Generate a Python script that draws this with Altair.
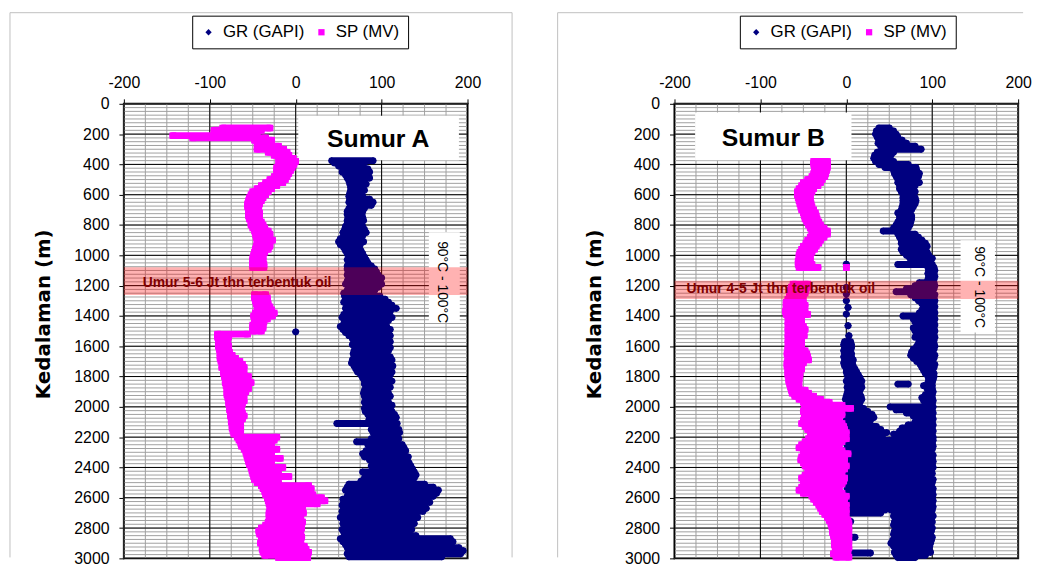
import altair as alt
import pandas as pd

# ---------------- axis ticks / grid ----------------
x_ticks = [-200, -100, 0, 100, 200]
y_ticks = list(range(0, 3001, 200))
x_minor = list(range(-200, 201, 25))
y_minor = list(range(0, 3001, 25))

series_names = ["GR (GAPI)", "SP (MV)"]
series_colors = ["#000080", "#FF00FF"]
series_shapes = ["diamond", "square"]

# ---------------- Sumur A : (depth, low value, high value) ----------------
sp_a = [(160,-85,-30),(175,-95,-40),(190,-95,-45),(210,-143,-45),(225,-120,-35),(240,-48,-28),(260,-45,-28),(280,-44,-20),(300,-45,-14),(320,-32,-10),(340,-25,-8),(360,-20,-3),(380,-16,0),(400,-20,-2),(420,-22,-4),(440,-22,-6),(460,-22,-8),(480,-25,-10),(500,-30,-12),(520,-35,-15),(540,-40,-22),(560,-45,-28),(580,-50,-32),(600,-52,-35),(620,-54,-38),(640,-55,-40),(660,-56,-42),(680,-56,-43),(700,-55,-44),(720,-55,-42),(740,-55,-43),(760,-54,-42),(780,-52,-40),(800,-52,-38),(820,-50,-36),(840,-48,-32),(860,-47,-30),(880,-46,-30),(900,-45,-27),(920,-45,-30),(940,-46,-30),(960,-47,-32),(980,-48,-36),(1000,-49,-38),(1020,-50,-38),(1040,-50,-38),(1060,-50,-37),(1080,-50,-37),(1260,-48,-35),(1280,-48,-33),(1300,-47,-33),(1320,-46,-32),(1340,-45,-30),(1360,-44,-28),(1380,-47,-25),(1400,-49,-27),(1420,-48,-33),(1440,-48,-37),(1460,-50,-38),(1480,-50,-38),(1500,-50,-40),(1520,-91,-56),(1540,-91,-78),(1560,-90,-80),(1580,-90,-79),(1600,-90,-78),(1620,-89,-78),(1640,-88,-77),(1660,-88,-74),(1680,-88,-70),(1700,-87,-65),(1720,-85,-62),(1740,-86,-60),(1760,-84,-62),(1780,-84,-60),(1800,-83,-55),(1820,-82,-58),(1840,-82,-52),(1860,-81,-55),(1880,-80,-55),(1900,-80,-58),(1920,-80,-60),(1940,-79,-62),(1960,-78,-60),(1980,-78,-62),(2000,-77,-63),(2020,-77,-65),(2040,-76,-62),(2060,-76,-60),(2080,-75,-62),(2100,-75,-64),(2120,-74,-64),(2140,-74,-64),(2160,-73,-64),(2180,-72,-64),(2200,-68,-22),(2220,-66,-25),(2240,-64,-28),(2260,-63,-30),(2280,-60,-22),(2300,-58,-28),(2320,-57,-30),(2340,-56,-18),(2360,-55,-30),(2380,-54,-28),(2400,-52,-15),(2420,-51,-25),(2440,-50,-20),(2460,-49,-8),(2480,-48,-25),(2500,-45,-20),(2520,-40,15),(2540,-38,18),(2560,-36,5),(2580,-35,20),(2600,-33,30),(2620,-32,34),(2640,-31,25),(2660,-30,8),(2680,-30,5),(2700,-31,9),(2720,-31,4),(2740,-30,6),(2760,-32,8),(2780,-35,5),(2800,-40,7),(2820,-43,3),(2840,-42,6),(2860,-40,7),(2880,-40,4),(2900,-41,6),(2920,-38,10),(2940,-39,12),(2960,-38,15),(2980,-36,12),(2995,-20,14)]

gr_a = [(375,42,90),(390,45,80),(410,50,78),(430,55,84),(450,54,86),(470,58,84),(490,60,86),(510,62,80),(530,63,82),(550,64,78),(570,64,80),(590,63,76),(610,62,78),(630,63,86),(650,62,90),(670,64,88),(690,62,80),(710,60,78),(730,60,77),(750,61,78),(770,60,79),(790,60,76),(810,58,78),(830,57,80),(850,55,82),(870,56,78),(890,52,76),(910,50,79),(930,52,75),(950,56,74),(970,58,76),(990,60,78),(1010,62,80),(1030,60,82),(1050,62,84),(1070,60,88),(1090,60,92),(1110,61,94),(1130,60,96),(1150,62,100),(1170,60,98),(1190,58,100),(1210,62,96),(1230,60,92),(1250,56,90),(1270,57,98),(1290,58,104),(1310,56,108),(1330,60,112),(1350,58,117),(1370,60,110),(1390,56,106),(1410,54,112),(1430,57,108),(1450,56,102),(1470,52,106),(1490,55,110),(1510,58,108),(1530,62,110),(1550,66,108),(1570,68,110),(1590,66,106),(1610,70,110),(1630,68,108),(1650,67,105),(1670,68,110),(1690,66,112),(1710,65,108),(1730,68,113),(1750,70,110),(1770,72,112),(1790,76,110),(1810,78,108),(1830,80,112),(1850,80,108),(1870,82,110),(1890,80,106),(1910,79,108),(1930,80,110),(1950,82,106),(1970,80,108),(1990,82,112),(2010,80,110),(2030,81,112),(2050,84,115),(2070,86,117),(2090,85,114),(2110,48,118),(2130,90,116),(2150,88,120),(2170,90,121),(2190,92,118),(2210,88,120),(2230,71,117),(2250,84,124),(2270,86,126),(2290,82,128),(2310,78,126),(2330,80,131),(2350,86,130),(2370,90,132),(2390,88,134),(2410,92,136),(2430,78,138),(2450,85,140),(2470,80,138),(2490,76,136),(2510,62,150),(2530,60,160),(2550,58,166),(2570,62,164),(2590,60,160),(2610,55,130),(2630,56,156),(2650,54,150),(2670,56,152),(2690,54,148),(2710,55,140),(2730,52,142),(2750,56,130),(2770,55,138),(2790,58,125),(2810,54,135),(2830,56,130),(2850,57,140),(2870,52,180),(2890,55,183),(2910,58,175),(2930,60,190),(2950,62,195),(2970,60,192),(2990,62,170),(1505,0,0)]

# ---------------- Sumur B ----------------
sp_b = [(380,-38,-22),(400,-38,-22),(420,-37,-22),(440,-37,-23),(460,-38,-24),(480,-40,-25),(500,-45,-28),(520,-50,-30),(540,-52,-33),(560,-55,-38),(580,-57,-40),(600,-57,-42),(620,-56,-42),(640,-55,-42),(660,-54,-41),(680,-53,-40),(700,-52,-38),(720,-50,-36),(740,-49,-35),(760,-48,-34),(780,-46,-32),(800,-44,-30),(820,-42,-26),(840,-40,-22),(860,-40,-22),(880,-42,-26),(900,-45,-30),(920,-47,-32),(940,-50,-35),(960,-52,-37),(980,-54,-40),(1000,-55,-42),(1020,-55,-42),(1040,-56,-42),(1060,-56,-40),(1080,-55,-33),(1080,0,0),(1190,-62,-45),(1210,-64,-45),(1230,-65,-47),(1250,-66,-48),(1270,-66,-50),(1290,-68,-52),(1310,-70,-50),(1330,-70,-48),(1350,-70,-50),(1370,-71,-48),(1390,-70,-45),(1410,-68,-52),(1430,-67,-53),(1450,-68,-52),(1470,-67,-50),(1490,-68,-48),(1510,-67,-50),(1530,-68,-49),(1550,-67,-52),(1570,-68,-53),(1590,-67,-52),(1610,-68,-55),(1630,-68,-48),(1650,-69,-46),(1670,-68,-45),(1690,-68,-44),(1710,-69,-50),(1730,-69,-52),(1750,-68,-52),(1770,-68,-54),(1790,-68,-54),(1810,-67,-55),(1830,-67,-55),(1850,-66,-56),(1870,-65,-55),(1890,-64,-48),(1910,-63,-44),(1930,-60,-38),(1950,-55,-30),(1970,-50,-20),(1990,-48,-5),(2010,-49,5),(2030,-50,-10),(2050,-48,-5),(2070,-49,-12),(2090,-50,-8),(2110,-52,-5),(2130,-48,-3),(2150,-45,-2),(2170,-42,0),(2190,-40,-2),(2210,-44,0),(2230,-48,-5),(2250,-52,-8),(2270,-55,-10),(2290,-50,-5),(2310,-48,2),(2330,-52,-4),(2350,-53,-2),(2370,-50,-5),(2390,-48,0),(2410,-45,-2),(2430,-42,-5),(2450,-48,-8),(2470,-52,-2),(2490,-50,-3),(2510,-48,-5),(2530,-52,-10),(2550,-55,-8),(2570,-50,-5),(2590,-40,0),(2610,-38,-2),(2630,-35,-5),(2650,-32,0),(2670,-30,-2),(2690,-28,0),(2710,-25,-3),(2730,-22,0),(2750,-20,2),(2770,-18,3),(2790,-17,2),(2810,-16,3),(2830,-16,2),(2850,-15,3),(2870,-14,2),(2890,-14,3),(2910,-14,2),(2930,-13,3),(2950,-12,2),(2970,-15,0),(2992,-12,3)]

gr_b = [(160,38,50),(180,35,55),(200,34,58),(220,36,60),(240,38,65),(260,37,70),(280,40,80),(300,42,87),(320,36,55),(340,33,52),(360,32,50),(380,34,55),(400,38,72),(420,45,81),(440,55,82),(460,56,85),(480,58,84),(500,60,82),(520,60,85),(540,62,80),(560,62,78),(580,64,80),(600,66,78),(620,66,80),(640,66,81),(660,66,80),(680,65,78),(700,64,76),(720,60,74),(740,62,76),(760,62,76),(780,60,75),(800,58,74),(820,55,72),(840,43,62),(860,60,80),(880,62,84),(900,64,88),(920,64,92),(940,66,94),(960,64,92),(980,66,94),(1000,70,96),(1020,74,100),(1040,76,98),(1060,60,100),(1080,95,102),(1100,96,103),(1120,95,102),(1140,96,103),(1160,95,102),(1180,85,102),(1200,80,103),(1220,70,102),(1240,58,100),(1260,75,103),(1280,80,102),(1300,84,103),(1320,88,102),(1340,90,103),(1360,88,102),(1380,85,103),(1400,66,102),(1420,78,103),(1440,80,102),(1460,82,103),(1480,78,102),(1500,80,103),(1520,82,102),(1540,80,103),(1560,85,102),(1580,84,102),(1600,82,103),(1620,78,102),(1640,76,100),(1660,75,103),(1680,78,102),(1700,82,100),(1720,86,103),(1740,88,102),(1760,90,100),(1780,92,102),(1800,95,102),(1820,96,101),(1840,95,100),(1850,60,72),(1860,90,100),(1880,94,100),(1900,96,101),(1920,92,100),(1940,88,100),(1960,90,101),(1980,92,100),(2000,51,101),(2020,58,100),(2040,70,101),(2060,78,100),(2080,85,101),(2100,80,100),(2120,72,101),(2140,65,100),(2160,62,101),(2180,55,100),(2200,58,101),(2220,45,101),
        (1058,0,0),(1212,0,0),(1256,0,0),(1300,0,0),(1344,2,2),(1388,0,0),(1465,2,2),(1531,3,3),(1570,-2,5),(1590,-3,6),(1610,-2,6),(1630,-3,5),(1650,-2,6),(1670,-3,6),(1690,-2,8),(1710,-3,7),(1730,-2,8),(1750,0,10),(1770,0,12),(1790,1,14),(1810,2,16),(1830,0,18),(1850,2,17),(1870,1,18),(1890,2,16),(1910,1,15),(1930,0,17),(1950,-1,18),(1970,0,16),(1990,2,15),(2010,0,20),(2030,-2,25),(2050,0,30),(2070,2,32),(2090,0,28),(2110,-1,25),(2130,2,35),(2150,0,40),(2170,3,47),(2190,2,42),(2210,5,40),(2230,3,45),
        (2240,0,100),(2260,2,101),(2280,0,100),(2300,1,98),(2320,0,101),(2340,2,100),(2360,0,101),(2380,-2,100),(2400,0,101),(2420,2,99),(2440,0,100),(2460,3,98),(2480,0,101),(2500,2,100),(2520,3,99),(2540,1,101),(2560,3,100),(2580,2,101),(2600,4,100),(2620,3,101),(2640,2,50),(2640,55,100),(2660,3,48),(2660,56,101),(2680,2,45),(2680,52,100),(2700,4,40),(2700,56,99),
        (2720,55,101),(2740,58,99),(2760,56,100),(2780,55,98),(2800,58,100),(2820,56,99),(2840,55,98),(2860,58,100),(2880,54,99),(2900,52,98),(2920,55,97),(2940,58,96),(2960,56,98),(2980,58,92),(2995,60,80),
        (2756,5,5),(2861,3,10),(2965,1,28)]

# ---------------- annotations ----------------
ann_a = dict(title="Sumur A", title_v=96, title_d=232, box=(3, 190, 78, 372),
             band=(1078, 1262), band_text="Umur 5-6 Jt thn terbentuk oil", band_v=-178, band_d=1180,
             temp_box=(155, 191, 848, 1434), temp_v=170, temp_d=1177, legend_x=69, frame_right=True)
ann_b = dict(title="Sumur B", title_v=-85, title_d=228, box=(-176, 6, 57, 373),
             band=(1168, 1289), band_text="Umur 4-5 Jt thn terbentuk oil", band_v=-186, band_d=1222,
             temp_box=(133, 173, 900, 1510), temp_v=154, temp_d=1210, legend_x=66, frame_right=False)
temp_label = "90°C - 100°C"

W, H = 347, 459
xscale = alt.Scale(domain=[-200, 200], nice=False, zero=False)
yscale = alt.Scale(domain=[0, 3000], reverse=True, nice=False, zero=False)
xaxis = alt.Axis(orient="top", values=x_ticks, grid=False, domain=False, ticks=True, tickSize=5,
                 tickColor="black", labelFontSize=16, labelFont="Liberation Sans", labelColor="black",
                 labelPadding=8, title=None, labelFlush=False, labelExpr="'' + datum.value")
yaxis = alt.Axis(values=y_ticks, grid=False, domain=False, ticks=True, tickSize=5, tickColor="black",
                 labelFontSize=16, labelFont="Liberation Sans", labelColor="black", labelPadding=10,
                 labelFlush=False, labelOverlap=False, labelExpr="'' + datum.value",
                 title="Kedalaman (m)", titleFont="DejaVu Sans", titleFontSize=20, titleFontWeight="bold",
                 titleColor="black", titleX=-71, titleY=212, titleAngle=270, titleBaseline="bottom",
                 titleAlign="center")


def X(f):
    return alt.X(f, type="quantitative", scale=xscale, axis=xaxis)


def Y(f):
    return alt.Y(f, type="quantitative", scale=yscale, axis=yaxis)


def panel(gr, sp, ann):
    gr_df = pd.DataFrame(gr, columns=["depth", "lo", "hi"])
    gr_df["series"] = series_names[0]
    sp_df = pd.DataFrame(sp, columns=["depth", "lo", "hi"])
    sp_df["series"] = series_names[1]

    leg = alt.Legend(orient="none", legendX=ann["legend_x"], legendY=-89, direction="horizontal",
                     title=None, strokeColor="black", fillColor="white", padding=8,
                     labelFontSize=17, labelFont="Liberation Sans", labelColor="black",
                     symbolSize=40, columnPadding=8, labelOffset=6, symbolStrokeWidth=0)
    cscale = alt.Scale(domain=series_names, range=series_colors)
    sscale = alt.Scale(domain=series_names, range=series_shapes)

    minor_v = alt.Chart(pd.DataFrame({"gx": x_minor})).mark_rule(color="#A0A0A0", strokeWidth=1).encode(x=X("gx"))
    minor_h = alt.Chart(pd.DataFrame({"gy": y_minor})).mark_rule(color="#A0A0A0", strokeWidth=1).encode(y=Y("gy"))
    major_v = alt.Chart(pd.DataFrame({"gx": x_ticks})).mark_rule(color="black", strokeWidth=1).encode(x=X("gx"))
    major_h = alt.Chart(pd.DataFrame({"gy": y_ticks})).mark_rule(color="black", strokeWidth=1).encode(y=Y("gy"))

    b = ann["box"]
    t = ann["temp_box"]
    boxes = alt.Chart(pd.DataFrame({"v1": [b[0], t[0]], "v2": [b[1], t[1]], "d1": [b[2], t[2]], "d2": [b[3], t[3]]})
                      ).mark_rect(color="white").encode(x=X("v1"), x2="v2", y=Y("d1"), y2="d2")

    def rules(df, color):
        return alt.Chart(df).mark_rule(color=color, strokeWidth=7, strokeCap="round").encode(
            x=X("lo"), x2="hi", y=Y("depth"))

    def pts(df, size):
        return alt.Chart(df).transform_fold(["lo", "hi"], as_=["end", "value"]).mark_point(
            filled=True, size=size, opacity=1, strokeWidth=0).encode(
            x=X("value"), y=Y("depth"),
            color=alt.Color("series:N", scale=cscale, legend=leg),
            shape=alt.Shape("series:N", scale=sscale, legend=leg))

    band = alt.Chart(pd.DataFrame({"v1": [-200], "v2": [200], "d1": [ann["band"][0]], "d2": [ann["band"][1]]})
                     ).mark_rect(color="#FF0000", opacity=0.3).encode(x=X("v1"), x2="v2", y=Y("d1"), y2="d2")

    band_txt = alt.Chart(pd.DataFrame({"v": [ann["band_v"]], "d": [ann["band_d"]], "t": [ann["band_text"]]})
                         ).mark_text(align="left", baseline="middle", font="Liberation Sans", fontSize=14,
                                     fontWeight="bold", color="#800000").encode(x=X("v"), y=Y("d"), text="t:N")
    title_txt = alt.Chart(pd.DataFrame({"v": [ann["title_v"]], "d": [ann["title_d"]], "t": [ann["title"]]})
                          ).mark_text(align="center", baseline="middle", font="Liberation Sans", fontSize=25,
                                      fontWeight="bold", color="black").encode(x=X("v"), y=Y("d"), text="t:N")
    temp_txt = alt.Chart(pd.DataFrame({"v": [ann["temp_v"]], "d": [ann["temp_d"]], "t": [temp_label]})
                         ).mark_text(align="center", baseline="middle", font="Liberation Sans", fontSize=14,
                                     angle=90, color="black").encode(x=X("v"), y=Y("d"), text="t:N")

    one = alt.Data(values=[{"k": 1}])
    frame_c = "#BFBFBF"
    right_edge = 392 if ann["frame_right"] else 352
    left_edge = -115 if ann["frame_right"] else -118
    top_edge = -92
    frames = [
        alt.Chart(one).mark_rule(color=frame_c, strokeWidth=1).encode(
            x=alt.value(left_edge), x2=alt.value(right_edge), y=alt.value(top_edge)),
        alt.Chart(one).mark_rule(color=frame_c, strokeWidth=1).encode(
            x=alt.value(left_edge), y=alt.value(top_edge), y2=alt.value(458)),
    ]
    if ann["frame_right"]:
        frames.append(alt.Chart(one).mark_rule(color=frame_c, strokeWidth=1).encode(
            x=alt.value(right_edge), y=alt.value(top_edge), y2=alt.value(458)))

    return alt.layer(minor_v, minor_h, major_v, major_h, boxes,
                     rules(gr_df, series_colors[0]), pts(gr_df, 55),
                     rules(sp_df, series_colors[1]), pts(sp_df, 45),
                     band, band_txt, title_txt, temp_txt, *frames).properties(width=W, height=H)


chart = alt.hconcat(panel(gr_a, sp_a, ann_a), panel(gr_b, sp_b, ann_b), spacing=42).resolve_scale(
    x="independent", y="independent", color="independent", shape="independent"
).properties(padding=0, background="white").configure_view(stroke="black", strokeWidth=2)

chart.save("out.html", embed_options={"renderer": "svg", "actions": False})
